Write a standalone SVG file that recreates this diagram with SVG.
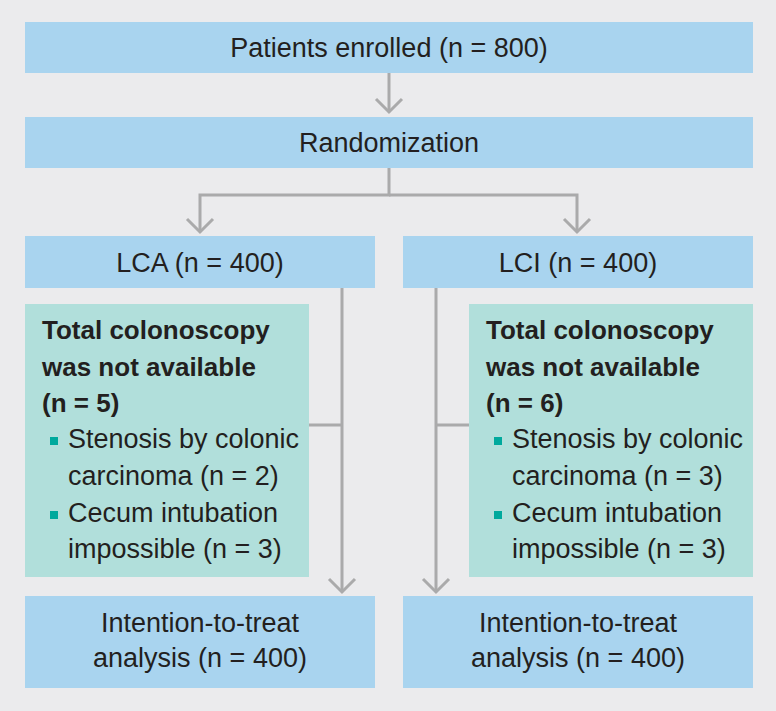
<svg xmlns="http://www.w3.org/2000/svg" width="776" height="711" viewBox="0 0 776 711">
<defs>
<style>
.bg{fill:#ebebed}
.blue{fill:#a9d4ef}
.green{fill:#b1dfdb}
.t{font-family:"Liberation Sans",Arial,sans-serif;font-size:27px;fill:#231f20}
.c{text-anchor:middle}
.b{font-weight:bold;font-size:26px}
.ln{fill:none;stroke:#aaaaab;stroke-width:3}
.bul{fill:#00a99d}
</style>
</defs>
<rect class="bg" width="776" height="711"/>
<g id="connectors">
<path class="ln" d="M389,73 V112"/>
<path d="M376,99 L389,112 L402,99" class="ln"/>
<path class="ln" d="M389,168 V195 H200 V232"/>
<path class="ln" d="M389,195 H577 V232"/>
<path d="M187,219 L200,232 L213,219" class="ln"/>
<path d="M564,219 L577,232 L590,219" class="ln"/>
<path class="ln" d="M342,288 V592"/>
<path d="M329,579 L342,592 L355,579" class="ln"/>
<path class="ln" d="M309,425 H342"/>
<path class="ln" d="M436,288 V592"/>
<path d="M423,579 L436,592 L449,579" class="ln"/>
<path class="ln" d="M436,425 H469"/>
</g>
<g id="enrolled">
<rect class="blue" x="25" y="22" width="728" height="51"/>
<text class="t c" x="389" y="57">Patients enrolled (n = 800)</text>
</g>
<g id="randomization">
<rect class="blue" x="25" y="117" width="728" height="51"/>
<text class="t c" x="389" y="152">Randomization</text>
</g>
<g id="lca">
<rect class="blue" x="25" y="236" width="350" height="52"/>
<text class="t c" x="200" y="272">LCA (n = 400)</text>
</g>
<g id="lci">
<rect class="blue" x="403" y="236" width="350" height="52"/>
<text class="t c" x="578" y="272">LCI (n = 400)</text>
</g>
<g id="excl-lca">
<rect class="green" x="25" y="304" width="284" height="273"/>
<text class="t b" x="42" y="339">Total colonoscopy</text>
<text class="t b" x="42" y="376">was not available</text>
<text class="t b" x="42" y="412">(n = 5)</text>
<rect class="bul" x="50" y="437" width="8" height="8"/>
<text class="t" x="68" y="448">Stenosis by colonic</text>
<text class="t" x="68" y="485">carcinoma (n = 2)</text>
<rect class="bul" x="50" y="511" width="8" height="8"/>
<text class="t" x="68" y="522">Cecum intubation</text>
<text class="t" x="68" y="558">impossible (n = 3)</text>
</g>
<g id="excl-lci">
<rect class="green" x="469" y="304" width="284" height="273"/>
<text class="t b" x="486" y="339">Total colonoscopy</text>
<text class="t b" x="486" y="376">was not available</text>
<text class="t b" x="486" y="412">(n = 6)</text>
<rect class="bul" x="494" y="437" width="8" height="8"/>
<text class="t" x="512" y="448">Stenosis by colonic</text>
<text class="t" x="512" y="485">carcinoma (n = 3)</text>
<rect class="bul" x="494" y="511" width="8" height="8"/>
<text class="t" x="512" y="522">Cecum intubation</text>
<text class="t" x="512" y="558">impossible (n = 3)</text>
</g>
<g id="itt-lca">
<rect class="blue" x="25" y="596" width="350" height="92"/>
<text class="t c" x="200" y="632">Intention-to-treat</text>
<text class="t c" x="200" y="667">analysis (n = 400)</text>
</g>
<g id="itt-lci">
<rect class="blue" x="403" y="596" width="350" height="92"/>
<text class="t c" x="578" y="632">Intention-to-treat</text>
<text class="t c" x="578" y="667">analysis (n = 400)</text>
</g>
</svg>
